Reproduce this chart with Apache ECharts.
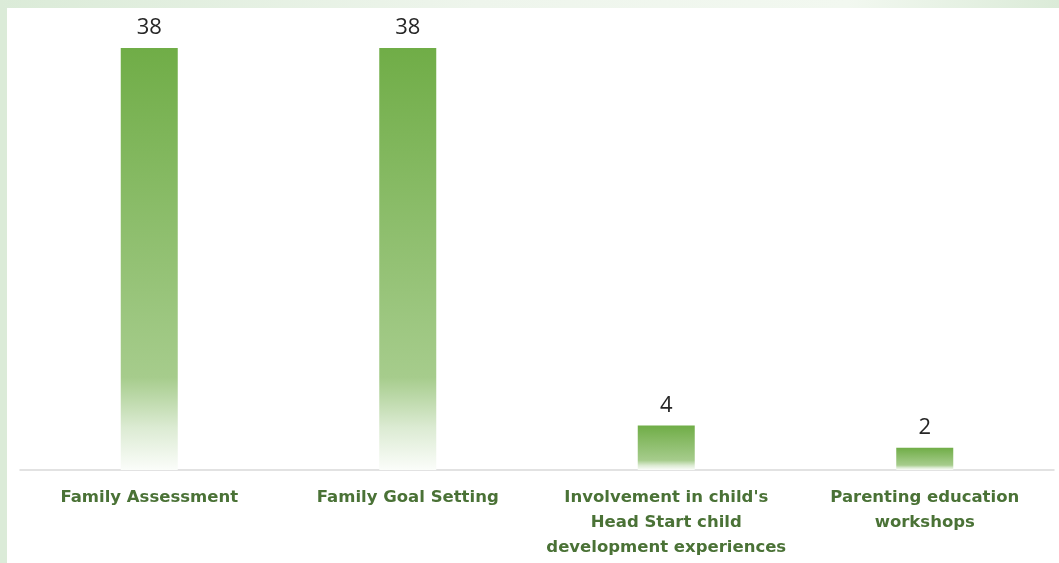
<!DOCTYPE html>
<html>
<head>
<meta charset="utf-8">
<script src="https://cdn.jsdelivr.net/npm/echarts@6/dist/echarts.min.js"></script>
<style>
  html, body { margin: 0; padding: 0; }
  body {
    width: 1059px;
    height: 563px;
    position: relative;
    overflow: hidden;
    background: #dbebd8;
  }
  .top-strip {
    position: absolute;
    left: 0; top: 0;
    width: 1059px; height: 8px;
    background: linear-gradient(to right, #dbebd8 0%, #eef5ec 45%, #f2f8f0 80%, #dbebd8 100%);
  }
  #chart {
    position: absolute;
    left: 7px; top: 8px;
    width: 1052px; height: 555px;
    background: #ffffff;
  }
</style>
</head>
<body>
<div class="top-strip"></div>
<div id="chart"></div>
<script>
const categories = [
  "Family Assessment",
  "Family Goal Setting",
  "Involvement in child's\nHead Start child\ndevelopment experiences",
  "Parenting education\nworkshops"
];
const counts = [38, 38, 4, 2];

const chart = echarts.init(document.getElementById("chart"));

chart.setOption({
  backgroundColor: "#ffffff",
  animation: false,
  grid: { left: 13, right: 5, top: 40, bottom: 93 },
  xAxis: {
    type: "category",
    data: categories,
    axisTick: { show: false },
    axisLine: { lineStyle: { color: "#d9d9d9", width: 1.5 } },
    axisLabel: {
      interval: 0,
      margin: 15,
      color: "#4a7236",
      fontFamily: "DejaVu Sans",
      fontWeight: "bold",
      fontSize: 16.5,
      lineHeight: 25
    }
  },
  yAxis: {
    type: "value",
    min: 0,
    max: 38,
    show: false,
    splitLine: { show: false }
  },
  series: [
    {
      type: "bar",
      data: counts,
      barWidth: 57,
      itemStyle: {
        color: new echarts.graphic.LinearGradient(0, 0, 0, 1, [
          { offset: 0, color: "#70ad47" },
          { offset: 0.78, color: "#a6cc8c" },
          { offset: 0.9, color: "#dcebd3" },
          { offset: 1, color: "#fbfdfa" }
        ])
      },
      label: {
        show: true,
        position: "top",
        distance: 9,
        color: "#262626",
        fontFamily: "Open Sans",
        fontSize: 22
      }
    }
  ]
});
</script>
</body>
</html>
